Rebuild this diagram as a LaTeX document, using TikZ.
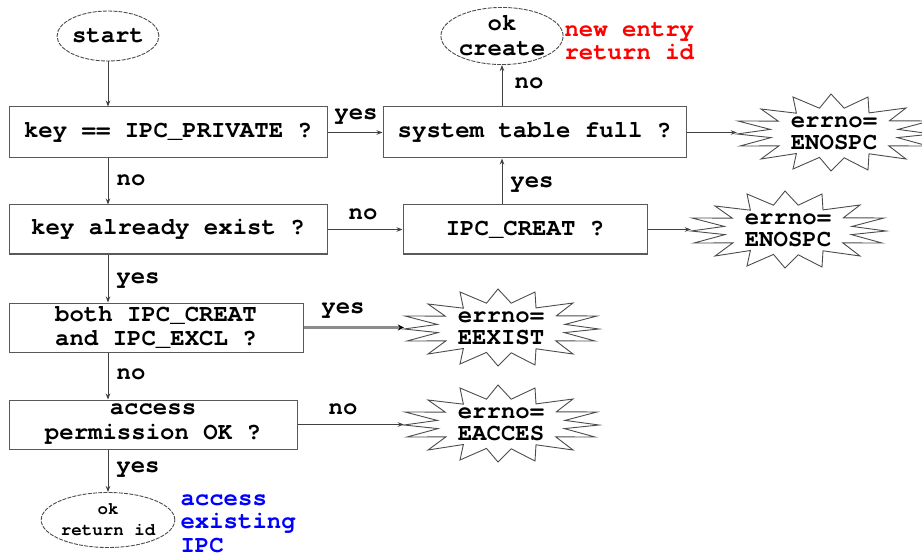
\documentclass[tikz,border=0pt]{standalone}
\usepackage{fontspec}
\setmonofont{TeX Gyre Cursor}
\usetikzlibrary{arrows.meta,shapes.geometric}
\newcommand\burstshape[1]{%
  \draw[burstline, shift={(#1.center)}]
    (-41,-36) -- (-14.5,-24.8) -- (-3,-39) -- (10.2,-24.8) -- (34,-36) -- (35,-20.1)
    -- (72,-25) -- (55.4,-12.2) -- (96,-12) -- (64,-3.6) -- (98,1) -- (63.4,4.6)
    -- (94,13) -- (54.8,12.9) -- (72,26) -- (35,20.8) -- (34,37) -- (10.2,24.8)
    -- (-3,38) -- (-14.5,24.4) -- (-41,36) -- (-37.6,20.5) -- (-73,26) -- (-55.1,12.9)
    -- (-94,13) -- (-63,4.6) -- (-97,1) -- (-63.7,-3.6) -- (-96,-12) -- (-55.8,-11.9)
    -- (-73,-24) -- (-37.6,-19.8) -- cycle;
}
\begin{document}
\begin{tikzpicture}[x=1pt,y=-1pt,
  txt/.style={font=\ttfamily\bfseries\fontsize{24}{25}\selectfont},
  box/.style={txt, draw=black!65, line width=1pt, rectangle, inner sep=0pt, align=center},
  term/.style={txt, ellipse, draw=black!70, line width=0.9pt, dash pattern=on 4pt off 1.2pt, inner sep=0pt, align=center},
  burstnode/.style={ellipse, inner sep=0pt, minimum width=194pt, minimum height=74pt, align=center,
     font=\ttfamily\bfseries\fontsize{24}{22}\selectfont},
  burstline/.style={draw=black!70, line width=0.9pt, line join=miter},
  lbl/.style={txt},
  arr/.style={draw=black!75, line width=0.8pt, -{Stealth[length=6pt,width=4.5pt]}},
  thick arr/.style={draw=black!45, line width=3pt, -{Stealth[length=6pt,width=6pt,color=black]}},
]
\useasboundingbox (0,0) rectangle (922,559);

\node[term, minimum width=99pt, minimum height=50pt] (start) at (108,36) {start};
\node[term, minimum width=98pt, minimum height=51pt] (okc) at (502,36) {ok\\create};
\node[anchor=west, align=left, text=red, font=\ttfamily\bfseries\fontsize{24}{23}\selectfont] (red) at (561,41.5) {new entry\\return id};

\node[box, minimum width=318pt, minimum height=51pt] (b1) at (168,132.5) {key == IPC\_PRIVATE ?};
\node[box, minimum width=303pt, minimum height=51pt] (sys) at (534.5,132.5) {system table full ?};
\node[burstnode] (s1) at (834,133) {errno=\\ENOSPC};
\burstshape{s1}

\node[box, minimum width=318pt, minimum height=49pt] (keyex) at (168,229.5) {key already exist ?};
\node[box, minimum width=244pt, minimum height=49pt] (creat) at (525,229.5) {IPC\_CREAT ?};
\node[burstnode] (s2) at (788,230) {errno=\\ENOSPC};
\burstshape{s2}

\node[box, minimum width=294pt, minimum height=49pt, font=\ttfamily\bfseries\fontsize{24}{24}\selectfont] (both) at (156,327.5) {both IPC\_CREAT\\and IPC\_EXCL ?};
\node[burstnode] (s3) at (501,328) {errno=\\EEXIST};
\burstshape{s3}

\node[box, minimum width=288pt, minimum height=49pt] (acc) at (153,424.5) {access\\permission OK ?};
\node[burstnode] (s4) at (501,424) {errno=\\EACCES};
\burstshape{s4}

\node[term, minimum width=120pt, minimum height=55pt, font=\ttfamily\bfseries\fontsize{17.5}{21}\selectfont] (okr) at (108,520) {ok\\return id};
\node[anchor=west, align=left, text=blue, font=\ttfamily\bfseries\fontsize{24}{23.5}\selectfont] (blue) at (177,523.5) {access\\existing\\IPC};

% labels
\node[lbl] (l1) at (356,117) {yes};
\node[lbl] (l2) at (529,83) {no};
\node[lbl] (l3) at (131,180) {no};
\node[lbl] (l4) at (363,214) {no};
\node[lbl] (l5) at (532,185) {yes};
\node[lbl] (l6) at (138,281) {yes};
\node[lbl] (l7) at (343,311) {yes};
\node[lbl] (l8) at (131,374) {no};
\node[lbl] (l9) at (343,409) {no};
\node[lbl] (l10) at (138,470) {yes};

% connectors
\draw[arr] (start) -- (start |- b1.north);
\draw[arr] (b1.east) -- (sys.west);
\draw[arr] (okc |- sys.north) -- (okc.south);
\draw[arr] (sys.east) -- (sys.east -| s1.west);
\draw[arr] (start |- b1.south) -- (start |- keyex.north);
\draw[arr] (keyex.east) -- (creat.west);
\draw[arr] (okc |- creat.north) -- (okc |- sys.south);
\draw[arr] (creat.east) -- (creat.east -| s2.west);
\draw[arr] (start |- keyex.south) -- (start |- both.north);
\draw[thick arr] (both.east) -- (both.east -| s3.west);
\draw[arr] (start |- both.south) -- (start |- acc.north);
\draw[arr] (acc.east) -- (acc.east -| s4.west);
\draw[arr] (start |- acc.south) -- (start |- okr.north);
\end{tikzpicture}
\end{document}
